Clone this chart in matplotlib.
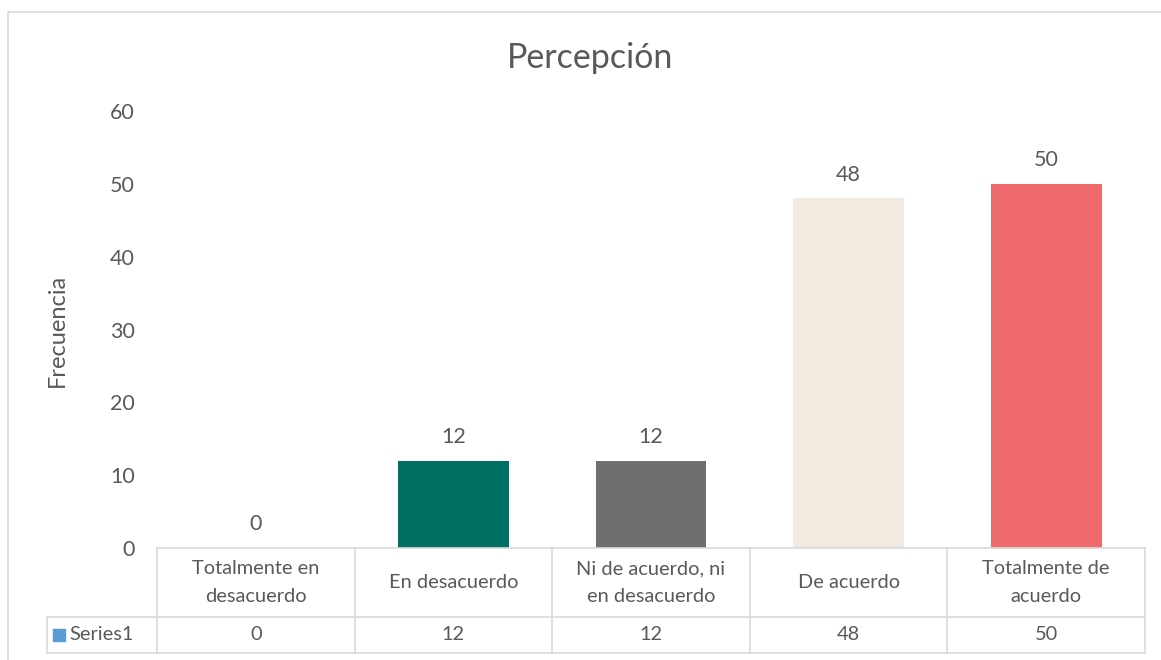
import matplotlib
matplotlib.use("Agg")
import matplotlib.pyplot as plt
from matplotlib.patches import Rectangle
from matplotlib.lines import Line2D

categories = ["Totalmente en\ndesacuerdo", "En desacuerdo", "Ni de acuerdo, ni\nen desacuerdo",
              "De acuerdo", "Totalmente de\nacuerdo"]
values = [0, 12, 12, 48, 50]
colors = ["#5B9BD5", "#007064", "#6F6F6F", "#F2E9E0", "#EE6A6C"]
series_name = "Series1"
yticks = [0, 10, 20, 30, 40, 50, 60]

plt.rcParams['font.family'] = ['Lato', 'DejaVu Sans']
W, H = 1161, 660
fig = plt.figure(figsize=(W / 100, H / 100), dpi=100)
txt = "#595959"
grid = "#D9D9D9"
fs_tick = 15.5
fs_tab = 14.4

def fx(px):
    return px / W

def fy(py):
    return 1 - py / H

# outer chart border
fig.patches.append(Rectangle((fx(8), fy(700)), fx(1200), fy(12) - fy(700), transform=fig.transFigure,
                             fill=False, edgecolor="#D9D9D9", linewidth=1.2))

L, R, T, B = 157, 1145, 111, 548
ax = fig.add_axes([fx(L), fy(B), fx(R) - fx(L), fy(T) - fy(B)])
x = list(range(len(values)))
ax.bar(x, values, width=0.56, color=colors)
ax.set_xlim(-0.5, len(values) - 0.5)
ax.set_ylim(0, 60)
ax.set_yticks(yticks)
ax.set_yticklabels([str(v) for v in yticks], fontsize=fs_tick, color=txt)
ax.tick_params(axis='y', length=0, pad=16)
ax.set_xticks([])
for s in ax.spines.values():
    s.set_visible(False)
for xi, v in zip(x, values):
    ax.annotate(str(v), (xi, v), xytext=(0, 9.8), textcoords="offset points",
                ha="center", va="bottom", fontsize=fs_tick, color=txt)

fig.text(fx(57.5), fy(330), "Frecuencia", rotation=90, ha="center", va="center", fontsize=17, color=txt)
fig.text(fx(590), fy(58), "Percepción", ha="center", va="center", fontsize=24.5, color=txt)

# data table
TL, TT, TB = 47, 548, 653
colw = (R - L) / len(values)
extra = (L - TL) / colw
tax = fig.add_axes([fx(TL), fy(TB), fx(R) - fx(TL), fy(TT) - fy(TB)])
tax.set_xlim(-0.5 - extra, len(values) - 0.5)
tax.set_ylim(0, TB - TT)
tax.axis("off")
row = TB - 617  # height of value row
top = TB - TT
lw = 1.2
tax.add_line(Line2D([-0.5, len(values) - 0.5], [top, top], color=grid, lw=lw, clip_on=False))
tax.add_line(Line2D([-0.5 - extra, len(values) - 0.5], [row, row], color=grid, lw=lw, clip_on=False))
tax.add_line(Line2D([-0.5 - extra, len(values) - 0.5], [0, 0], color=grid, lw=lw, clip_on=False))
tax.add_line(Line2D([-0.5 - extra, -0.5 - extra], [0, row], color=grid, lw=lw, clip_on=False))
for k in range(len(values) + 1):
    tax.add_line(Line2D([k - 0.5, k - 0.5], [0, top], color=grid, lw=lw, clip_on=False))
for xi, c, v in zip(x, categories, values):
    tax.text(xi, (row + top) / 2, c, ha="center", va="center", fontsize=fs_tab, color=txt, linespacing=1.75)
    tax.text(xi, row / 2, str(v), ha="center", va="center", fontsize=fs_tab, color=txt)
# legend key
kx = -0.5 - extra
tax.add_patch(Rectangle((kx + 6 / colw, row / 2 - 5.5), 11.5 / colw, 11.5, color="#5B9BD5", clip_on=False))
tax.text(kx + 22 / colw, row / 2, series_name, ha="left", va="center", fontsize=fs_tab, color=txt)

fig.savefig("out.png", dpi=100)
